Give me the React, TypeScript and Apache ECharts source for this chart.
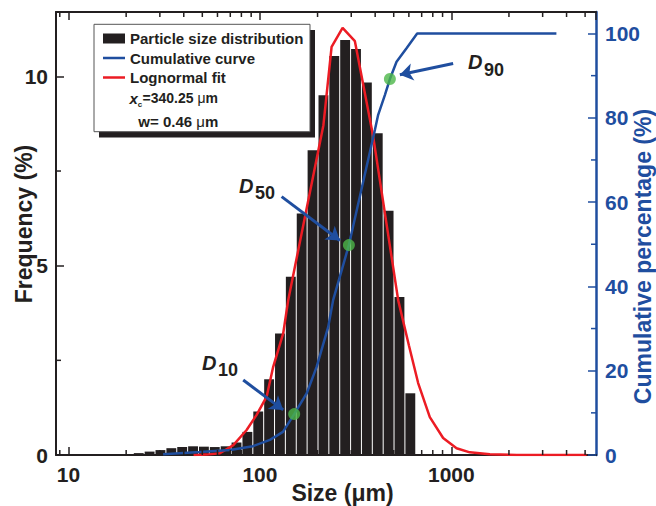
import React, { useEffect, useRef } from 'react';
import * as echarts from 'echarts';

const BLACK = '#231f20';
const BLUE = '#1f4e9f';
const RED = '#ec1c24';
const GREEN = '#4cb748';
const FONT = '"Liberation Sans", Arial, Helvetica, sans-serif';

// Histogram bins (µm) and frequency (%)
const binEdges = [21.8, 24.84, 28.3, 32.26, 36.76, 41.9, 47.75, 54.41, 62.01, 70.68, 80.54, 91.79, 104.6, 119.2, 135.8, 154.8, 176.4, 201.1, 229.1, 261.1, 297.6, 339.1, 386.5, 440.5, 501.9, 572.0, 651.9];
const frequency = [0.05, 0.09, 0.13, 0.18, 0.21, 0.23, 0.22, 0.21, 0.23, 0.33, 0.61, 1.15, 2.0, 3.21, 4.71, 6.38, 8.05, 9.5, 10.54, 10.96, 10.72, 9.84, 8.5, 6.45, 4.17, 1.63];

// Cumulative curve
const cumSizes = [31.2, 48.6, 69.7, 91.9, 112.8, 131.9, 151, 175.4, 197.8, 227.4, 241.4, 291.6, 398.6, 414.7, 449.5, 477.5, 517.4, 583.4, 663, 3540];
const cumPercent = [0.15, 0.7, 1.2, 2.1, 3.6, 5.5, 9.7, 14.6, 20.9, 30.4, 36.8, 49.8, 77.1, 80.7, 85.4, 89.2, 93.3, 96.5, 100, 100];

// Lognormal fit
const fitSizes = [45, 52.7, 61.8, 72.6, 85.2, 96.1, 108.4, 117.3, 132.3, 140.5, 214.6, 236.8, 270.3, 313.4, 390.6, 527.6, 600, 670.9, 772, 906, 1065, 1249, 1589, 2200, 5080];
const fitFreq = [0, 0.01, 0.045, 0.26, 0.66, 1.06, 1.54, 2.33, 3.21, 4.09, 8.71, 10.78, 11.28, 10.93, 8.41, 4.09, 2.9, 1.9, 1.0, 0.45, 0.18, 0.07, 0.02, 0, 0];

// D10, D50, D90 markers (size, cumulative %)
const dNames = ['D10', 'D50', 'D90'];
const dSizes = [151, 291.6, 477.5];
const dPercent = [9.7, 49.8, 89.2];

// Arrows (size, cumulative %): from label to marker
const arrowFrom = [[81.8, 17.8], [129.8, 61.3], [1022, 92.9]];
const arrowTo = [[132.3, 10.7], [261.7, 50.9], [538.4, 90.2]];

// Axis settings
const xMin = 8.6;
const xMax = 5700;
const yMax = 11.7;
const y2Max = 105.1;
const xMinorTicks = [9, 20, 30, 40, 50, 60, 70, 80, 90, 200, 300, 400, 500, 600, 700, 800, 900, 2000, 3000, 4000, 5000];
const leftMinorTicks = [2.5, 7.5];
const rightMinorTicks = [10, 30, 50, 70, 90];

// thin horizontal line legend icon inside a 22x10 box
const LINE_ICON = 'path://M0,0L0.01,0L0,0.01ZM22,10L21.99,10L22,9.99ZM0,3.75L22,3.75L22,6.25L0,6.25Z';

export default function App() {
  const ref = useRef<HTMLDivElement>(null);
  useEffect(() => {
    if (!ref.current) return;
    const chart = echarts.init(ref.current, null, { renderer: 'svg' });

    const barData = frequency.map((v, i) => [binEdges[i], binEdges[i + 1], v]);
    const cumData = cumSizes.map((s, i) => [s, cumPercent[i]]);
    const fitData = fitSizes.map((s, i) => [s, fitFreq[i]]);
    const dData = dSizes.map((s, i) => ({ name: dNames[i], value: [s, dPercent[i]] }));

    const labelFont = { fontSize: 21, fontWeight: 'bold', fontFamily: FONT };
    const nameFont = { fontSize: 23, fontWeight: 'bold', fontFamily: FONT };

    const dLabel = (x: number, y: number, sub: string) => [
      { type: 'text', z: 30, style: { text: 'D', x, y, fontSize: 20, fontWeight: 'bold', fontStyle: 'italic', fontFamily: FONT, fill: BLACK, align: 'left', verticalAlign: 'middle' } },
      { type: 'text', z: 30, style: { text: sub, x: x + 16, y: y + 7.5, fontSize: 18, fontWeight: 'bold', fontFamily: FONT, fill: BLACK, align: 'left', verticalAlign: 'middle' } },
    ];

    const option: any = {
      animation: false,
      backgroundColor: '#ffffff',
      grid: { left: 56, right: 60, top: 12, bottom: 51, containLabel: false, outerBoundsMode: 'none' },
      legend: {
        orient: 'vertical', left: 103, top: 31, padding: 0, itemGap: 4.5,
        itemWidth: 22, itemHeight: 10, z: 20, selectedMode: false,
        textStyle: { fontSize: 15, fontWeight: 'bold', color: BLACK, fontFamily: FONT },
        data: [
          { name: 'Particle size distribution', icon: 'rect' },
          { name: 'Cumulative curve', icon: LINE_ICON },
          { name: 'Lognormal fit', icon: LINE_ICON },
        ],
      },
      xAxis: [
        {
          type: 'log', logBase: 10, min: xMin, max: xMax, position: 'bottom',
          name: 'Size (μm)', nameLocation: 'middle', nameGap: 26, nameMoveOverlap: false,
          nameTextStyle: { ...nameFont, color: BLACK, padding: [0, 0, 0, 33] },
          axisLine: { show: true, onZero: false, lineStyle: { color: BLACK, width: 2 } },
          axisTick: { show: true, inside: true, length: 8, lineStyle: { color: BLACK, width: 1.5 } },
          axisLabel: { ...labelFont, color: BLACK, margin: 9, showMinLabel: false, showMaxLabel: false, formatter: (v: number) => String(Math.round(v)) },
          splitLine: { show: false }, minorTick: { show: false }, minorSplitLine: { show: false },
        },
        {
          type: 'log', logBase: 10, min: xMin, max: xMax, position: 'top',
          axisLine: { show: true, onZero: false, lineStyle: { color: BLACK, width: 2 } },
          axisTick: { show: true, inside: true, length: 8, lineStyle: { color: BLACK, width: 1.5 } },
          axisLabel: { show: false },
          splitLine: { show: false },
        },
      ],
      yAxis: [
        {
          type: 'value', min: 0, max: yMax, interval: 5, position: 'left',
          name: 'Frequency (%)', nameLocation: 'middle', nameRotate: 90, nameGap: 21, nameMoveOverlap: false,
          nameTextStyle: { ...nameFont, color: BLACK, padding: [0, 0, 0, 19] },
          axisLine: { show: true, onZero: false, lineStyle: { color: BLACK, width: 2 } },
          axisTick: { show: true, inside: true, length: 8, lineStyle: { color: BLACK, width: 1.5 } },
          axisLabel: { ...labelFont, color: BLACK, margin: 8, showMaxLabel: false },
          splitLine: { show: false },
        },
        {
          type: 'value', min: 0, max: y2Max, interval: 20, position: 'right',
          name: 'Cumulative percentage (%)', nameLocation: 'middle', nameRotate: 90, nameGap: 35, nameMoveOverlap: false,
          nameTextStyle: { ...nameFont, color: BLUE, padding: [0, 46, 0, 0] },
          axisLine: { show: true, onZero: false, lineStyle: { color: BLUE, width: 2.5 } },
          axisTick: { show: true, inside: true, length: 8, lineStyle: { color: BLUE, width: 1.5 } },
          axisLabel: { ...labelFont, color: BLUE, margin: 9, showMaxLabel: false },
          splitLine: { show: false },
        },
      ],
      graphic: {
        elements: [
          { type: 'rect', z: 8, shape: { x: 99, y: 30, width: 216, height: 107.5 }, style: { fill: BLACK } },
          { type: 'rect', z: 9, shape: { x: 94, y: 24.3, width: 216, height: 107.4 }, style: { fill: '#ffffff', stroke: '#555555', lineWidth: 1 } },
          { type: 'text', z: 30, style: { text: 'x', x: 129.5, y: 98, fontSize: 15, fontWeight: 'bold', fontStyle: 'italic', fontFamily: FONT, fill: BLACK, align: 'left', verticalAlign: 'middle' } },
          { type: 'text', z: 30, style: { text: 'c', x: 137.8, y: 104, fontSize: 8, fontWeight: 'bold', fontFamily: FONT, fill: BLACK, align: 'left', verticalAlign: 'middle' } },
          { type: 'text', z: 30, style: { text: '=340.25 {n|μ}m', x: 142.5, y: 98, fontSize: 14, fontWeight: 'bold', fontFamily: FONT, fill: BLACK, align: 'left', verticalAlign: 'middle', rich: { n: { fontSize: 14, fontWeight: 'normal', fontFamily: FONT, fill: BLACK } } } },
          { type: 'text', z: 30, style: { text: 'w= 0.46 {n|μ}m', x: 138.3, y: 121.5, fontSize: 15, fontWeight: 'bold', fontFamily: FONT, fill: BLACK, align: 'left', verticalAlign: 'middle', rich: { n: { fontSize: 15, fontWeight: 'normal', fontFamily: FONT, fill: BLACK } } } },
          ...dLabel(202, 362.5, '10'),
          ...dLabel(239, 185.5, '50'),
          ...dLabel(468, 62, '90'),
        ],
      },
      series: [
        {
          name: 'Particle size distribution', type: 'custom', xAxisIndex: 0, yAxisIndex: 0,
          itemStyle: { color: BLACK }, encode: { x: [0, 1], y: 2 }, data: barData, z: 2, silent: true,
          renderItem: (params: any, api: any) => {
            const p0 = api.coord([api.value(0), 0]);
            const p1 = api.coord([api.value(1), api.value(2)]);
            return {
              type: 'rect',
              shape: { x: p0[0] + 0.5, y: p1[1], width: p1[0] - p0[0] - 1, height: p0[1] - p1[1] },
              style: { fill: BLACK },
            };
          },
        },
        {
          name: 'Cumulative curve', type: 'line', xAxisIndex: 0, yAxisIndex: 1, data: cumData,
          symbol: 'none', showSymbol: false, lineStyle: { color: BLUE, width: 2.5 }, itemStyle: { color: BLUE }, z: 4, silent: true,
        },
        {
          name: 'Lognormal fit', type: 'line', xAxisIndex: 0, yAxisIndex: 0, data: fitData,
          symbol: 'none', showSymbol: false, lineStyle: { color: RED, width: 2.5 }, itemStyle: { color: RED }, z: 3, silent: true,
        },
        {
          name: 'D values', type: 'scatter', xAxisIndex: 0, yAxisIndex: 1, data: dData,
          symbol: 'circle', symbolSize: 12, itemStyle: { color: GREEN }, z: 6, silent: true,
          markLine: {
            silent: true, symbol: ['none', 'arrow'], symbolSize: 13, animation: false,
            lineStyle: { color: BLUE, width: 3, type: 'solid' }, label: { show: false },
            emphasis: { disabled: true },
            data: arrowFrom.map((f, i) => [{ coord: f }, { coord: arrowTo[i] }]),
          },
        },
        {
          name: 'xMinor', type: 'custom', xAxisIndex: 0, yAxisIndex: 0, silent: true, z: 7,
          data: xMinorTicks.map((v) => [v, 0]),
          renderItem: (params: any, api: any) => {
            const p = api.coord([api.value(0), api.value(1)]);
            const cs = params.coordSys;
            return {
              type: 'group', children: [
                { type: 'line', shape: { x1: p[0], y1: cs.y + cs.height, x2: p[0], y2: cs.y + cs.height - 5 }, style: { stroke: BLACK, lineWidth: 1.5 } },
                { type: 'line', shape: { x1: p[0], y1: cs.y, x2: p[0], y2: cs.y + 5 }, style: { stroke: BLACK, lineWidth: 1.5 } },
              ],
            };
          },
        },
        {
          name: 'yMinor', type: 'custom', xAxisIndex: 0, yAxisIndex: 0, silent: true, z: 7,
          data: leftMinorTicks.map((v) => [xMin, v]),
          renderItem: (params: any, api: any) => {
            const p = api.coord([api.value(0), api.value(1)]);
            const cs = params.coordSys;
            return { type: 'line', shape: { x1: cs.x, y1: p[1], x2: cs.x + 5, y2: p[1] }, style: { stroke: BLACK, lineWidth: 1.5 } };
          },
        },
        {
          name: 'y2Minor', type: 'custom', xAxisIndex: 0, yAxisIndex: 1, silent: true, z: 7,
          data: rightMinorTicks.map((v) => [xMin, v]),
          renderItem: (params: any, api: any) => {
            const p = api.coord([api.value(0), api.value(1)]);
            const cs = params.coordSys;
            const xr = cs.x + cs.width;
            return { type: 'line', shape: { x1: xr, y1: p[1], x2: xr - 5, y2: p[1] }, style: { stroke: BLUE, lineWidth: 1.5 } };
          },
        },
      ],
    };

    chart.setOption(option);
    return () => chart.dispose();
  }, []);

  return <div ref={ref} style={{ position: 'absolute', left: 0, top: 0, width: 656, height: 506 }} />;
}
